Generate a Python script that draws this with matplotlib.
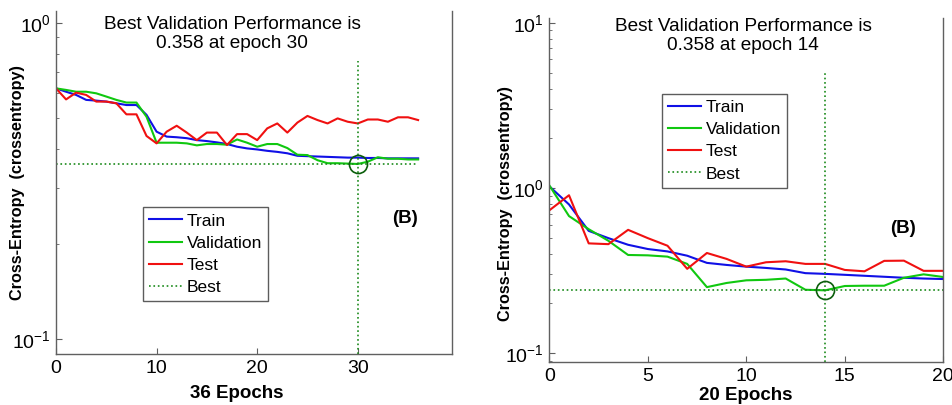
import numpy as np
import matplotlib.pyplot as plt

plt.rcParams['font.family'] = ['Liberation Sans', 'DejaVu Sans']
plt.rcParams['mathtext.default'] = 'regular'

# left run: 36 epochs
train_a = [0.621, 0.606, 0.592, 0.571, 0.568, 0.564, 0.557, 0.550, 0.550, 0.512,
           0.453, 0.437, 0.435, 0.432, 0.426, 0.423, 0.419, 0.414, 0.406, 0.401,
           0.398, 0.394, 0.391, 0.387, 0.380, 0.379, 0.378, 0.377, 0.376, 0.375,
           0.375, 0.374, 0.374, 0.373, 0.373, 0.373, 0.373]
val_a = [0.621, 0.614, 0.606, 0.606, 0.599, 0.585, 0.571, 0.560, 0.560, 0.505,
         0.418, 0.418, 0.418, 0.416, 0.410, 0.414, 0.414, 0.412, 0.428, 0.418,
         0.406, 0.414, 0.414, 0.402, 0.383, 0.382, 0.368, 0.360, 0.360, 0.359,
         0.358, 0.364, 0.376, 0.372, 0.372, 0.370, 0.370]
test_a = [0.621, 0.573, 0.602, 0.592, 0.564, 0.564, 0.557, 0.514, 0.514, 0.439,
          0.416, 0.453, 0.473, 0.450, 0.426, 0.450, 0.450, 0.411, 0.445, 0.445,
          0.426, 0.464, 0.481, 0.450, 0.484, 0.508, 0.493, 0.481, 0.499, 0.487,
          0.481, 0.495, 0.495, 0.487, 0.503, 0.503, 0.493]

# right run: 20 epochs
train_b = [1.024, 0.795, 0.550, 0.497, 0.453, 0.427, 0.413, 0.389, 0.352, 0.342,
           0.334, 0.328, 0.321, 0.305, 0.302, 0.298, 0.294, 0.290, 0.286, 0.283,
           0.281]
val_b = [1.038, 0.676, 0.563, 0.479, 0.393, 0.391, 0.384, 0.347, 0.251, 0.266,
         0.276, 0.278, 0.283, 0.242, 0.240, 0.255, 0.256, 0.256, 0.286, 0.300,
         0.289]
test_b = [0.732, 0.904, 0.462, 0.457, 0.558, 0.497, 0.447, 0.324, 0.404, 0.372,
          0.334, 0.355, 0.360, 0.347, 0.347, 0.319, 0.313, 0.362, 0.363, 0.315,
          0.315]

titles = ['Best Validation Performance is\n0.358 at epoch 30',
          'Best Validation Performance is\n0.358 at epoch 14']

C_TRAIN = '#1010e6'
C_VAL = '#10c810'
C_TEST = '#f01010'
C_BEST = '#1a8a1a'
C_CIRC = '#0b5e0b'
C_SPINE = '#606060'

W, H = 952, 405
fig = plt.figure(figsize=(W / 100, H / 100), dpi=100)


def px_box(x0, y0, x1, y1):
    return [x0 / W, 1 - y1 / H, (x1 - x0) / W, (y1 - y0) / H]


def panel(rect, train, val, test, xlim, ylim, xticks, vtop, title, title_xy,
          xlab, xlab_xy, ylab_xy, leg_xy, b_xy):
    ax = fig.add_axes(rect)
    ep = np.arange(len(train))
    ax.plot(ep, train, color=C_TRAIN, lw=1.5, label='Train')
    ax.plot(ep, val, color=C_VAL, lw=1.5, label='Validation')
    ax.plot(ep, test, color=C_TEST, lw=1.5, label='Test')

    best = int(np.argmin(val))
    ax.plot([0, len(train) - 1], [val[best], val[best]], ls=':', color=C_BEST,
            lw=1.2, label='Best')
    ax.plot([best, best], [ylim[0], vtop], ls=':', color=C_BEST, lw=1.2)
    ax.plot([best], [val[best]], 'o', ms=13, mfc='none', mec=C_CIRC, mew=1.2)

    ax.set_yscale('log')
    ax.set_xlim(*xlim)
    ax.set_ylim(*ylim)
    ax.set_xticks(xticks)
    ax.tick_params(direction='in', which='both', labelsize=14, pad=4,
                   color=C_SPINE)
    ax.tick_params(which='major', length=4)
    ax.tick_params(which='minor', length=2.5)
    ax.spines['top'].set_visible(False)
    for s in ['left', 'right', 'bottom']:
        ax.spines[s].set_color(C_SPINE)
        ax.spines[s].set_linewidth(1.0)

    fig.text(title_xy[0] / W, 1 - title_xy[1] / H, title, ha='center',
             va='top', fontsize=13.7, linespacing=1.15)
    fig.text(xlab_xy[0] / W, 1 - xlab_xy[1] / H, xlab, ha='center',
             va='baseline', fontsize=13.5, fontweight='bold')
    ax.set_ylabel('Cross-Entropy  (crossentropy)', fontsize=11.7,
                  fontweight='bold')
    ax.yaxis.set_label_coords(ylab_xy[0], ylab_xy[1])

    fig.text(b_xy[0] / W, 1 - b_xy[1] / H, '(B)', ha='center',
             va='center', fontsize=13.5, fontweight='bold')

    leg = ax.legend(loc='upper left', bbox_to_anchor=(leg_xy[0] / W, 1 - leg_xy[1] / H),
                    bbox_transform=fig.transFigure, borderaxespad=0,
                    fancybox=False, fontsize=12.5, handlelength=1.9,
                    handletextpad=0.3, labelspacing=0.4, borderpad=0.35)
    leg.get_frame().set_edgecolor('#333333')
    leg.get_frame().set_linewidth(1.0)
    return ax


panel(px_box(56, 11, 452.3, 354), train_a, val_a, test_a,
      (0, 39.4), (0.0897, 1.091), [0, 10, 20, 30], 0.76,
      titles[0], (232, 16), '36 Epochs', (236.7, 398), (-0.078, 0.5),
      (142.7, 207.3), (405, 218))

panel(px_box(549.3, 18, 943.3, 362.3), train_b, val_b, test_b,
      (0, 20), (0.088, 10.7), [0, 5, 10, 15, 20], 5.1,
      titles[1], (743.3, 18), '20 Epochs', (745.8, 400), (-0.092, 0.46),
      (661.7, 94), (902.7, 228))

fig.savefig('out.png', dpi=100)
